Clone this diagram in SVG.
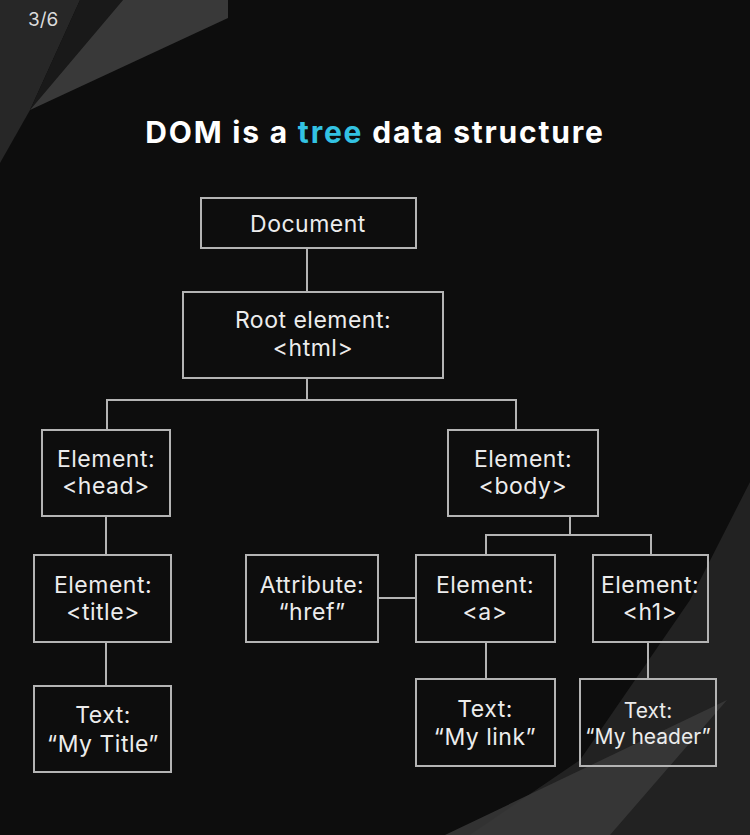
<svg xmlns="http://www.w3.org/2000/svg" width="750" height="835" viewBox="0 0 750 835">
  <style>
    .box { fill: none; stroke: #b4b4b4; stroke-width: 2; }
    .lbl { font-family: Inter, "Open Sans", "Liberation Sans", sans-serif; font-size: 23px; letter-spacing: 0.5px; fill: #ececec; text-anchor: middle; }
    .conn line { stroke: #b4b4b4; stroke-width: 2; }
  </style>
  <rect x="0" y="0" width="750" height="835" fill="#0d0d0d"/>
  <g id="decor">
    <polygon points="0,0 80,0 30,110 0,163" fill="#272727"/>
    <polygon points="80,0 123,0 30,110" fill="#191919"/>
    <polygon points="123,0 228,0 228,18 30,110" fill="#393939"/>
    <polygon points="752,478 690,600 580,760 470,835 750,835" fill="#222222"/>
    <polygon points="727,700 445,835 610,835" fill="#3a3a3a" fill-opacity="0.85"/>
  </g>
  <text x="28" y="26" font-family="Inter, 'Open Sans', 'Liberation Sans', sans-serif" font-size="19" fill="#dcdcdc">3/6</text>
  <text x="375" y="143" text-anchor="middle" font-family="Inter, 'Open Sans', 'Liberation Sans', sans-serif" font-size="30" font-weight="bold" letter-spacing="1.8" fill="#ffffff">DOM is a <tspan fill="#33c3e3">tree</tspan> data structure</text>

  <g class="conn" id="connectors">
    <line x1="307" y1="248" x2="307" y2="292"/>
    <line x1="307" y1="378" x2="307" y2="400"/>
    <line x1="106" y1="400" x2="517" y2="400"/>
    <line x1="107" y1="400" x2="107" y2="430"/>
    <line x1="516" y1="400" x2="516" y2="430"/>
    <line x1="106" y1="516" x2="106" y2="555"/>
    <line x1="106" y1="642" x2="106" y2="686"/>
    <line x1="570" y1="516" x2="570" y2="535"/>
    <line x1="485" y1="535" x2="652" y2="535"/>
    <line x1="486" y1="535" x2="486" y2="555"/>
    <line x1="651" y1="535" x2="651" y2="555"/>
    <line x1="378" y1="598" x2="416" y2="598"/>
    <line x1="486" y1="642" x2="486" y2="679"/>
    <line x1="648" y1="642" x2="648" y2="679"/>
  </g>

  <g id="document">
    <rect class="box" x="201" y="198" width="215" height="50"/>
    <text class="lbl" x="308" y="232">Document</text>
  </g>
  <g id="root">
    <rect class="box" x="183" y="292" width="260" height="86"/>
    <text class="lbl" x="313" y="328">Root element:</text>
    <text class="lbl" x="313" y="356">&lt;html&gt;</text>
  </g>
  <g id="head">
    <rect class="box" x="42" y="430" width="128" height="86"/>
    <text class="lbl" x="106" y="467">Element:</text>
    <text class="lbl" x="106" y="494">&lt;head&gt;</text>
  </g>
  <g id="body">
    <rect class="box" x="448" y="430" width="150" height="86"/>
    <text class="lbl" x="523" y="467">Element:</text>
    <text class="lbl" x="523" y="494">&lt;body&gt;</text>
  </g>
  <g id="title">
    <rect class="box" x="34" y="555" width="137" height="87"/>
    <text class="lbl" x="103" y="593">Element:</text>
    <text class="lbl" x="103" y="620">&lt;title&gt;</text>
  </g>
  <g id="attribute">
    <rect class="box" x="246" y="555" width="132" height="87"/>
    <text class="lbl" x="312" y="593">Attribute:</text>
    <text class="lbl" x="312" y="620">“href”</text>
  </g>
  <g id="a">
    <rect class="box" x="416" y="555" width="139" height="87"/>
    <text class="lbl" x="485" y="593">Element:</text>
    <text class="lbl" x="485" y="620">&lt;a&gt;</text>
  </g>
  <g id="h1">
    <rect class="box" x="593" y="555" width="115" height="87"/>
    <text class="lbl" x="650" y="593">Element:</text>
    <text class="lbl" x="650" y="620">&lt;h1&gt;</text>
  </g>
  <g id="text-title">
    <rect class="box" x="34" y="686" width="137" height="86"/>
    <text class="lbl" x="103" y="723">Text:</text>
    <text class="lbl" x="103" y="752">“My Title”</text>
  </g>
  <g id="text-link">
    <rect class="box" x="416" y="679" width="139" height="87"/>
    <text class="lbl" x="485" y="717">Text:</text>
    <text class="lbl" x="485" y="745">“My link”</text>
  </g>
  <g id="text-header">
    <rect class="box" x="580" y="679" width="136" height="87"/>
    <text class="lbl" x="648" y="718" style="font-size:21px;letter-spacing:0">Text:</text>
    <text class="lbl" x="648" y="744" style="font-size:21px;letter-spacing:0">“My header”</text>
  </g>
</svg>
